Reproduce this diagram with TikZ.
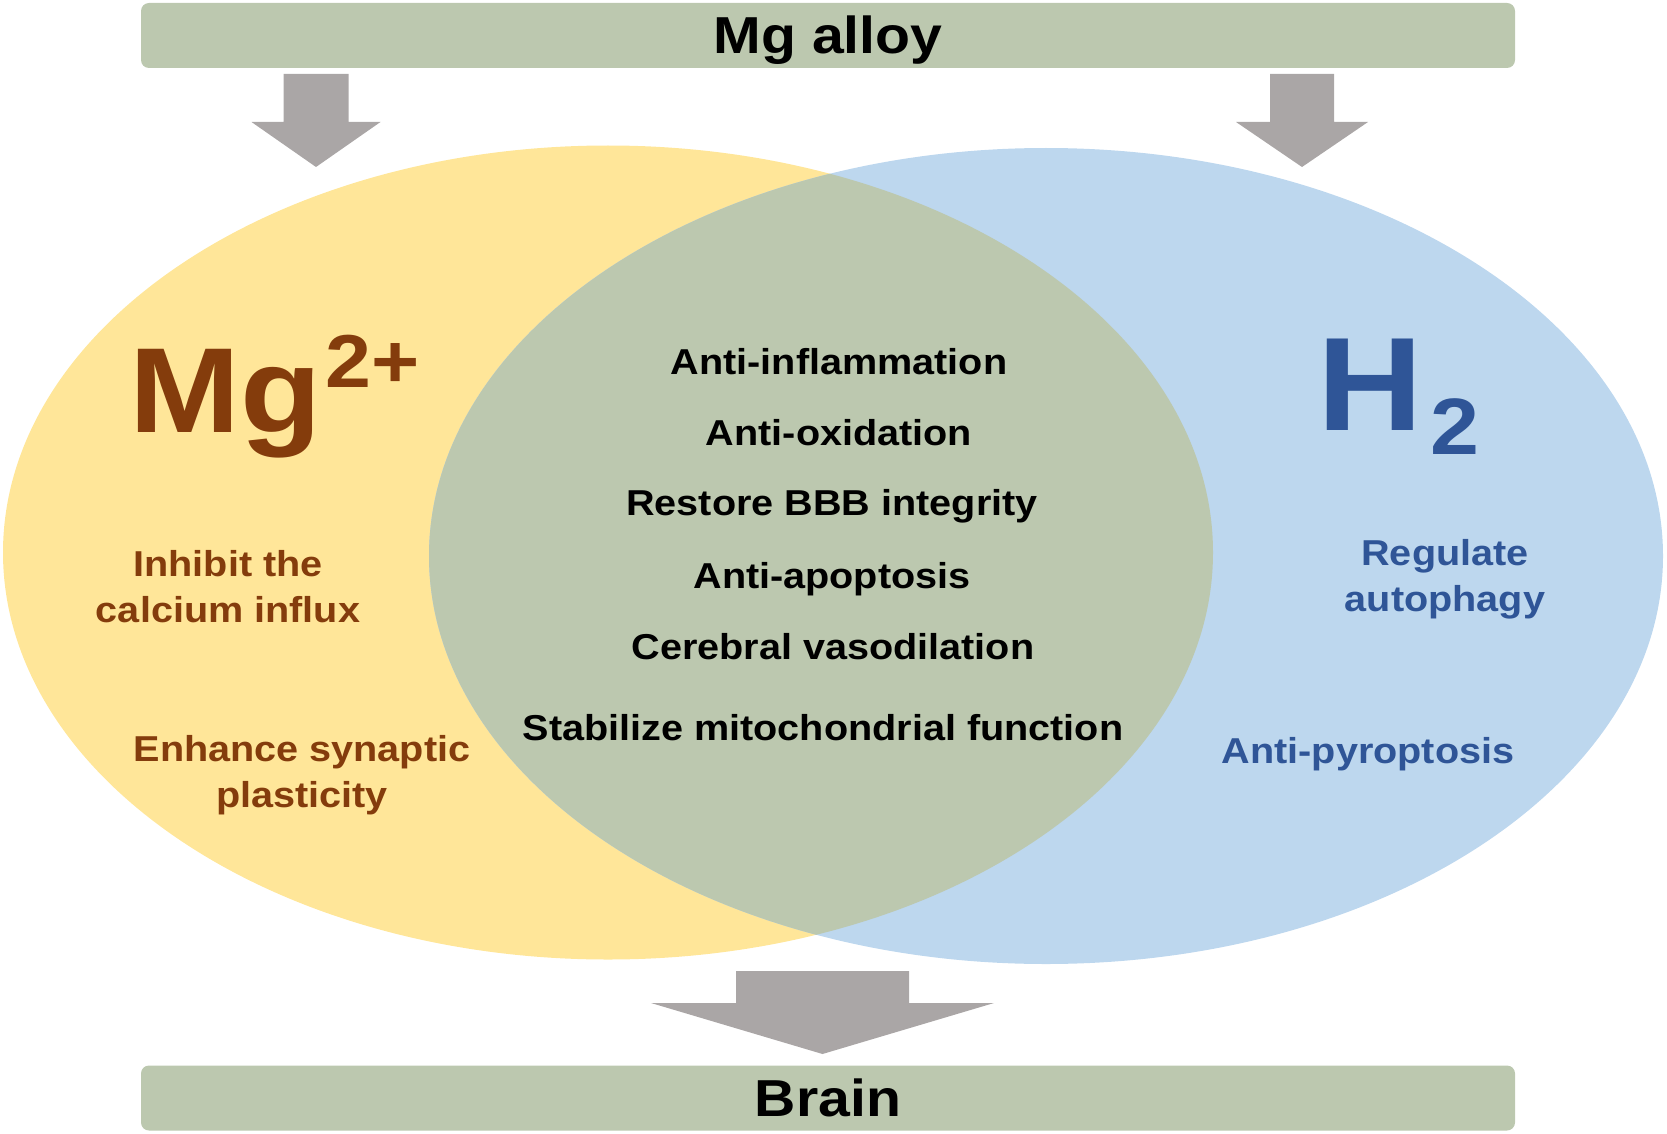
\documentclass[tikz,border=0pt]{standalone}
\usepackage{fontspec}
\setmainfont{Liberation Sans}[FakeStretch=1.1]

\definecolor{BarGreen}{HTML}{BCC8AF}
\definecolor{MgYellow}{HTML}{FFE699}
\definecolor{HBlue}{HTML}{BDD7EE}
\definecolor{ArrowGray}{HTML}{AAA6A6}
\definecolor{MgBrown}{HTML}{843C0C}
\definecolor{HNavy}{HTML}{2F5597}

\tikzset{
  bar/.style={fill=BarGreen, rounded corners=8pt, minimum width=1374pt,
    minimum height=65pt, inner sep=0pt, text height=37pt, text depth=0pt,
    font=\fontsize{52}{52}\selectfont\bfseries},
  effect/.style={anchor=base, inner sep=0pt, align=center,
    font=\fontsize{36}{46}\selectfont\bfseries},
  mgeffect/.style={effect, text=MgBrown},
  heffect/.style={effect, text=HNavy},
  ion/.style={anchor=base west, inner sep=0pt, font=\bfseries},
  blockarrow/.style={fill=ArrowGray},
}

% cx, top, shaft half width, head half width, head base, tip
\newcommand{\DownArrow}[6]{%
  \fill[blockarrow] (#1-#3,#2) -- (#1+#3,#2) -- (#1+#3,#5) -- (#1+#4,#5)
    -- (#1,#6) -- (#1-#4,#5) -- (#1-#3,#5) -- cycle;}

\begin{document}
\begin{tikzpicture}[x=1pt, y=-1pt]
  \useasboundingbox (0,0) rectangle (1667,1134);

  % the two circles of the diagram
  \fill[MgYellow] (608,552.5) ellipse [x radius=605, y radius=407];
  \fill[HBlue]    (1046,556)  ellipse [x radius=617, y radius=408];
  \begin{scope}
    \clip (608,552.5) ellipse [x radius=605, y radius=407];
    \fill[BarGreen] (1046,556) ellipse [x radius=617, y radius=408];
  \end{scope}

  % top and bottom bars
  \node[bar] (alloy) at (828,35.5) {Mg alloy};
  \node[bar] (brain) at (828,1098) {Brain};

  \DownArrow{316}{74}{32.5}{64.5}{122}{167}
  \DownArrow{1302}{74}{32}{66}{122}{167}
  \DownArrow{822.5}{971}{86.5}{171.5}{1003}{1054}

  % ions
  \node[ion, text=MgBrown] (mg) at (129,432)
    {\fontsize{121}{121}\selectfont Mg\kern4pt\raisebox{45pt}{\fontsize{75}{75}\selectfont 2+}};
  \node[ion, text=HNavy] (h2) at (1317,430)
    {\fontsize{133}{133}\selectfont H\kern8pt\raisebox{-24pt}{\fontsize{80}{80}\selectfont 2}};

  % shared effects
  \node[effect] (inflam)  at (839,374) {Anti-inflammation};
  \node[effect] (oxid)    at (839,445) {Anti-oxidation};
  \node[effect] (bbb)     at (832,515) {Restore BBB integrity};
  \node[effect] (apopt)   at (832,588) {Anti-apoptosis};
  \node[effect] (vaso)    at (833,659) {Cerebral vasodilation};
  \node[effect] (mito)    at (823,740) {Stabilize mitochondrial function};

  % Mg2+ effects
  \node[mgeffect] (calcium)  at (228,622) {Inhibit the\\calcium influx};
  \node[mgeffect] (synaptic) at (302,807) {Enhance synaptic\\plasticity};

  % H2 effects
  \node[heffect] (autoph) at (1445,611) {Regulate\\autophagy};
  \node[heffect] (pyro)   at (1368,763) {Anti-pyroptosis};
\end{tikzpicture}
\end{document}
